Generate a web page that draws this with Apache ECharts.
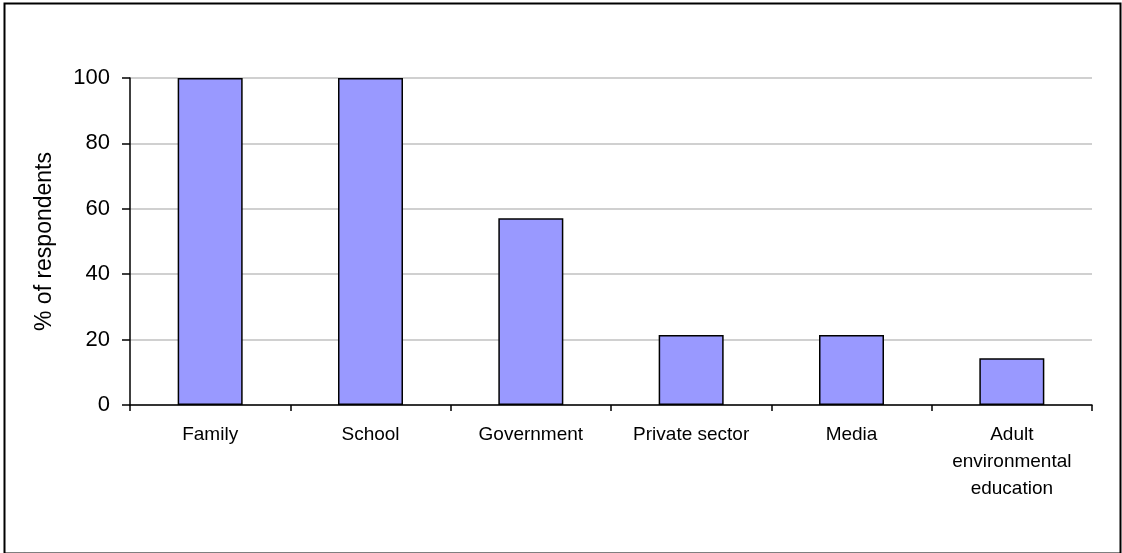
<!DOCTYPE html>
<html>
<head>
<meta charset="utf-8">
<script src="https://cdn.jsdelivr.net/npm/echarts@6/dist/echarts.min.js"></script>
<style>html,body{margin:0;padding:0;background:#fff;}#c{width:1122px;height:553px;}</style>
</head>
<body>
<div id="c"></div>
<script>
const categories = ["Family", "School", "Government", "Private sector", "Media", "Adult\nenvironmental\neducation"];
const values = [100, 100, 57.1, 21.4, 21.4, 14.3];
const yTicks = [0, 20, 40, 60, 80, 100];

const chart = echarts.init(document.getElementById('c'), null, {renderer: 'canvas'});
chart.setOption({
  animation: false,
  backgroundColor: '#ffffff',
  textStyle: {fontFamily: 'Liberation Sans, Arial, sans-serif'},
  graphic: [{
    type: 'rect', left: 2, top: 1, z: 100, silent: true,
    shape: {x: 0, y: 0, width: 1116, height: 550},
    style: {fill: 'none', stroke: '#000', lineWidth: 2}
  }],
  grid: {left: 130, right: 30, top: 78, bottom: 148, containLabel: false},
  xAxis: {
    type: 'category',
    data: categories,
    axisLine: {lineStyle: {color: '#000', width: 1.5}},
    axisTick: {show: true, length: 6, alignWithLabel: false, lineStyle: {color: '#000', width: 1.5}},
    axisLabel: {color: '#000', fontSize: 19, margin: 16, lineHeight: 27, interval: 0, fontFamily: 'Liberation Sans'},
    splitLine: {show: false}
  },
  yAxis: {
    type: 'value',
    min: yTicks[0], max: yTicks[yTicks.length - 1], interval: 20,
    name: '% of respondents',
    nameLocation: 'middle',
    nameGap: 74,
    nameRotate: 90,
    nameTextStyle: {color: '#000', fontSize: 23, fontFamily: 'Liberation Sans'},
    axisLine: {show: true, lineStyle: {color: '#000', width: 1.5}},
    axisTick: {show: true, length: 8, inside: false, lineStyle: {color: '#000', width: 1.5}},
    axisLabel: {color: '#000', fontSize: 22, margin: 20, fontFamily: 'Liberation Sans'},
    splitLine: {show: true, lineStyle: {color: '#c0c0c0', width: 1.5}}
  },
  series: [{
    type: 'bar',
    data: values,
    barWidth: 65,
    itemStyle: {color: '#9999ff', borderColor: '#000', borderWidth: 1.5}
  }]
});
</script>
</body>
</html>
